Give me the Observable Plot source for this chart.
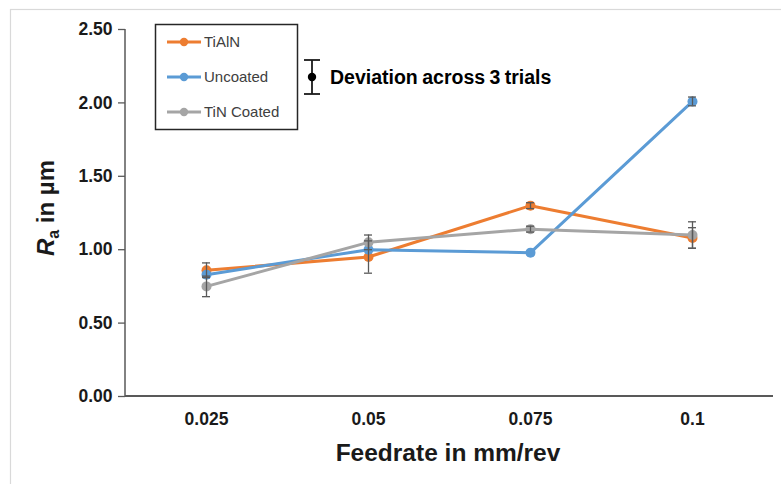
<!DOCTYPE html>
<html><head><meta charset="utf-8">
<script src="https://cdn.jsdelivr.net/npm/d3@7"></script>
<script src="https://cdn.jsdelivr.net/npm/@observablehq/plot@0.6"></script>
<style>
body{margin:0;background:#fff;font-family:"Liberation Sans",Arial,sans-serif}
#chart{position:relative;width:781px;height:484px}
</style>
</head><body><div id="chart"></div>
<script>
const feedrates = ["0.025", "0.05", "0.075", "0.1"];
const seriesNames = ["TiAlN", "Uncoated", "TiN Coated"];
const tialn = [0.86, 0.95, 1.30, 1.08];
const tialnErr = [0.05, 0.11, 0.02, 0.07];
const uncoated = [0.83, 1.00, 0.98, 2.01];
const uncoatedErr = [0, 0, 0, 0.03];
const tin = [0.75, 1.05, 1.14, 1.10];
const tinErr = [0.07, 0.05, 0.02, 0.09];
const yTicks = [0, 0.5, 1, 1.5, 2, 2.5];
const colors = ["#ED7D31", "#5B9BD5", "#A5A5A5"];

const values = [tialn, uncoated, tin];
const errs = [tialnErr, uncoatedErr, tinErr];
const data = [];
seriesNames.forEach((s, i) => feedrates.forEach((f, j) => {
  data.push({series: s, feed: f, v: values[i][j], e: errs[i][j]});
}));
const errData = data.filter(d => d.e > 0);

const plot = Plot.plot({
  width: 781, height: 484,
  marginLeft: 125, marginRight: 8, marginTop: 29, marginBottom: 88,
  style: {fontFamily: "Liberation Sans, Arial, sans-serif", background: "transparent"},
  x: {type: "band", domain: feedrates, padding: 0, label: null},
  y: {domain: [0, 2.5], label: null},
  color: {domain: seriesNames, range: colors},
  marks: [
    Plot.axisY({ticks: yTicks, tickFormat: d => d.toFixed(2), tickSize: 7, tickPadding: 6,
      fontSize: 17.5, fontWeight: "bold", stroke: "#595959", strokeWidth: 1.3, fill: "#1a1a1a", label: null}),
    Plot.axisX({tickSize: 0, tickPadding: 16, fontSize: 17.5, fontWeight: "bold", fill: "#1a1a1a", label: null}),
    ...seriesNames.map(s => Plot.line(data.filter(d => d.series === s), {x: "feed", y: "v", stroke: "series", strokeWidth: 3})),
    ...seriesNames.map(s => Plot.dot(data.filter(d => d.series === s), {x: "feed", y: "v", fill: "series", r: 5})),
    Plot.ruleX(errData, {x: "feed", y1: d => d.v - d.e, y2: d => d.v + d.e, stroke: "#595959", strokeWidth: 1.3}),
    Plot.tickY(errData, {x: "feed", y: d => d.v - d.e, stroke: "#595959", strokeWidth: 1.3, insetLeft: 77, insetRight: 77}),
    Plot.tickY(errData, {x: "feed", y: d => d.v + d.e, stroke: "#595959", strokeWidth: 1.3, insetLeft: 77, insetRight: 77})
  ]
});
document.getElementById("chart").appendChild(plot);

const svg = d3.select(plot);
const xs = plot.scale("x"), ys = plot.scale("y");
const x0 = xs.range[0], x1 = xs.range[1];
const yb = ys.range[0], yt = ys.range[1];

// outer light frame
svg.insert("rect", ":first-child").attr("x", 10.5).attr("y", 9.5).attr("width", 800).attr("height", 500)
  .attr("fill", "none").attr("stroke", "#d9d9d9").attr("stroke-width", 1.2);

// axis lines
svg.append("line").attr("x1", x0).attr("x2", x0).attr("y1", yt).attr("y2", yb)
  .attr("stroke", "#595959").attr("stroke-width", 1.5);
svg.append("line").attr("x1", x0).attr("x2", x1).attr("y1", yb).attr("y2", yb)
  .attr("stroke", "#595959").attr("stroke-width", 2);

// axis titles
svg.append("text").attr("x", 448).attr("y", 461).attr("text-anchor", "middle")
  .attr("font-size", 24.5).attr("font-weight", "bold").attr("fill", "#1a1a1a").text("Feedrate in mm/rev");
const yl = svg.append("text").attr("transform", `translate(54,208) rotate(-90)`)
  .attr("text-anchor", "middle").attr("font-size", 24).attr("font-weight", "bold").attr("fill", "#1a1a1a");
yl.append("tspan").attr("font-style", "italic").text("R");
yl.append("tspan").attr("font-size", 16).attr("dy", 5).text("a");
yl.append("tspan").attr("dy", -5).text(" in µm");

// legend
const lg = svg.append("g");
lg.append("rect").attr("x", 155.5).attr("y", 24.5).attr("width", 142).attr("height", 105)
  .attr("fill", "#fff").attr("stroke", "#262626").attr("stroke-width", 1.5);
seriesNames.forEach((s, i) => {
  const yy = 42 + i * 35;
  lg.append("line").attr("x1", 167).attr("x2", 201).attr("y1", yy).attr("y2", yy)
    .attr("stroke", colors[i]).attr("stroke-width", 3);
  lg.append("circle").attr("cx", 184).attr("cy", yy).attr("r", 4.2).attr("fill", colors[i]);
  lg.append("text").attr("x", 204).attr("y", yy + 5).attr("font-size", 15).attr("text-anchor", "start")
    .attr("fill", "#404040").text(s);
});

// deviation annotation
const an = svg.append("g").attr("stroke", "#1a1a1a").attr("stroke-width", 1.8);
an.append("line").attr("x1", 312).attr("x2", 312).attr("y1", 60).attr("y2", 94);
an.append("line").attr("x1", 304).attr("x2", 320).attr("y1", 60).attr("y2", 60);
an.append("line").attr("x1", 304).attr("x2", 320).attr("y1", 94).attr("y2", 94);
svg.append("circle").attr("cx", 312).attr("cy", 77).attr("r", 4.2).attr("fill", "#000");
svg.append("text").attr("x", 330).attr("y", 84).attr("font-size", 19.5).attr("font-weight", "bold")
  .attr("text-anchor", "start").attr("word-spacing", -1)
  .attr("fill", "#000").text("Deviation across 3 trials");
</script>
</body></html>
